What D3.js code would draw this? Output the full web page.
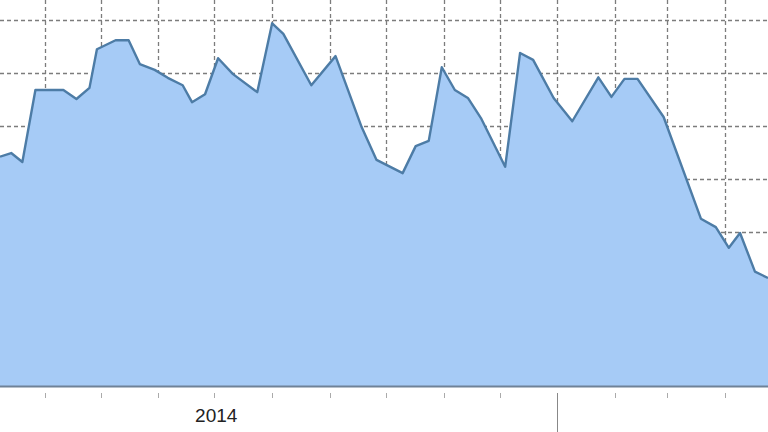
<!DOCTYPE html>
<html>
<head>
<meta charset="utf-8">
<script src="https://cdn.jsdelivr.net/npm/d3@7"></script>
<style>
  html, body { margin: 0; padding: 0; background: #fff; }
  svg { display: block; }
</style>
</head>
<body>
<script>
// weekly-ish readings, Mar 2014 - Apr 2015
const dates = [
  "2014-03-08", "2014-03-14", "2014-03-20", "2014-03-27", "2014-04-11", "2014-04-18",
  "2014-04-25", "2014-04-29", "2014-05-09", "2014-05-16", "2014-05-22", "2014-05-30",
  "2014-06-06", "2014-06-14", "2014-06-19", "2014-06-26", "2014-07-03", "2014-07-11",
  "2014-07-24", "2014-08-01", "2014-08-07", "2014-08-22", "2014-09-04", "2014-09-18",
  "2014-09-26", "2014-10-10", "2014-10-17", "2014-10-24", "2014-10-31", "2014-11-07",
  "2014-11-14", "2014-11-21", "2014-12-04", "2014-12-12", "2014-12-19", "2014-12-30",
  "2015-01-09", "2015-01-23", "2015-01-30", "2015-02-06", "2015-02-13", "2015-02-27",
  "2015-03-19", "2015-03-27", "2015-04-03", "2015-04-09", "2015-04-17", "2015-04-24"
]
const values = [
  74.2, 74.9, 73.2, 86.8, 86.8, 85.1,
  87.2, 94.5, 96.2, 96.2, 91.7, 90.6,
  89.1, 87.7, 84.5, 86.0, 92.8, 89.8,
  86.4, 99.4, 97.4, 87.7, 93.2, 79.8,
  73.6, 71.1, 76.2, 77.2, 91.1, 86.8,
  85.3, 81.5, 72.3, 93.8, 92.5, 85.3,
  80.9, 89.2, 85.5, 88.9, 88.9, 81.7,
  62.5, 60.9, 57.0, 59.8, 52.5, 51.3
]
const gridValues = [40, 50, 60, 70, 80, 90, 100]
const yearLabels = ["2014"]

const W = 768, H = 432
const plotBottom = 386

const parse = d3.timeParse("%Y-%m-%d")
const data = dates.map((d, i) => ({ date: parse(d), value: values[i] }))

const svg = d3.select("body")
    .append("svg")
    .attr("width", W)
    .attr("height", H)

const x = d3.scaleTime()
    .domain([parse("2014-03-08"), parse("2015-04-24")])
    .range([0, W])

const y = d3.scaleLinear()
    .domain([30.9, 103.8])
    .range([plotBottom, 0])

const months = d3.timeMonth.range(x.domain()[0], x.domain()[1])

// grid first, the area covers it
const grid = svg.append("g")
    .attr("stroke", "#7c7c7c")
    .attr("stroke-width", 1.3)
    .attr("stroke-dasharray", "4,3")

grid.selectAll("line.v")
    .data(months)
    .enter()
    .append("line")
    .attr("class", "v")
    .attr("x1", d => Math.round(x(d)) + 0.5)
    .attr("x2", d => Math.round(x(d)) + 0.5)
    .attr("y1", 0)
    .attr("y2", plotBottom)

grid.selectAll("line.h")
    .data(gridValues)
    .enter()
    .append("line")
    .attr("class", "h")
    .attr("x1", 0)
    .attr("x2", W)
    .attr("y1", d => Math.round(y(d)) + 0.5)
    .attr("y2", d => Math.round(y(d)) + 0.5)

const area = d3.area()
    .x(d => x(d.date))
    .y0(plotBottom)
    .y1(d => y(d.value))

const line = d3.line()
    .x(d => x(d.date))
    .y(d => y(d.value))

svg.append("path")
    .datum(data)
    .attr("fill", "#a6cbf6")
    .attr("d", area)

svg.append("path")
    .datum(data)
    .attr("fill", "none")
    .attr("stroke", "#4d7ca6")
    .attr("stroke-width", 2.4)
    .attr("stroke-linejoin", "round")
    .attr("d", line)

// axis line
svg.append("line")
    .attr("x1", 0)
    .attr("x2", W)
    .attr("y1", plotBottom + 0.5)
    .attr("y2", plotBottom + 0.5)
    .attr("stroke", "#6f8297")
    .attr("stroke-width", 2)

// month ticks, january gets the long one
svg.selectAll("line.tick")
    .data(months)
    .enter()
    .append("line")
    .attr("class", "tick")
    .attr("x1", d => Math.round(x(d)) + 0.5)
    .attr("x2", d => Math.round(x(d)) + 0.5)
    .attr("y1", 393)
    .attr("y2", d => d.getMonth() == 0 ? H : 398)
    .attr("stroke", d => d.getMonth() == 0 ? "#888" : "#aaa")
    .attr("stroke-width", 1)

svg.selectAll("text.year")
    .data(yearLabels)
    .enter()
    .append("text")
    .attr("class", "year")
    .attr("x", d => x(new Date(+d, 6, 2)))
    .attr("y", 422)
    .attr("text-anchor", "middle")
    .attr("font-family", "'Liberation Sans', Arial, sans-serif")
    .attr("font-size", 19)
    .attr("fill", "#222")
    .text(d => d)
</script>
</body>
</html>
